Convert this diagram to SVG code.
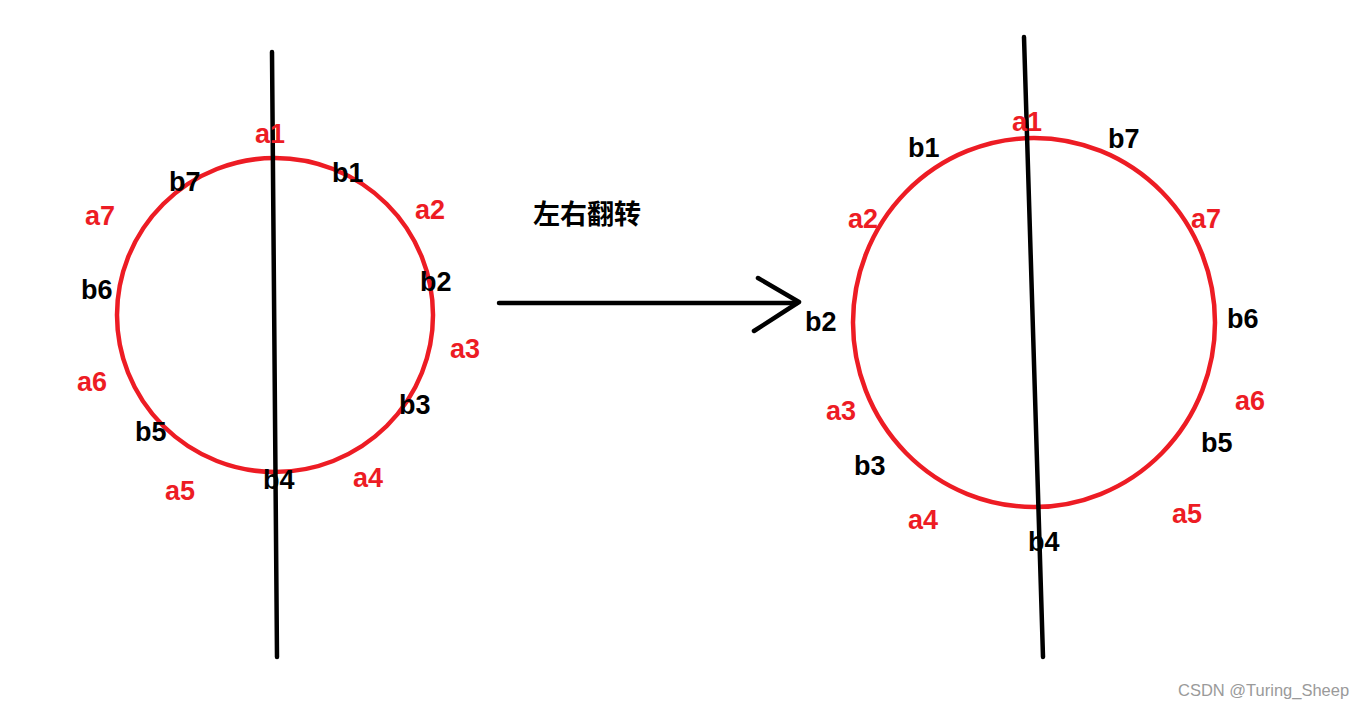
<svg xmlns="http://www.w3.org/2000/svg" width="1365" height="709" viewBox="0 0 1365 709">
<style>
.bg{fill:#fff}
.circ{fill:none;stroke:#ED1C24;stroke-width:4.5}
.ln{fill:none;stroke:#000;stroke-width:4.5;stroke-linecap:round;stroke-linejoin:round}
.a{fill:#ED1C24;font-family:"Liberation Sans",Arial,sans-serif;font-weight:bold;font-size:27px}
.b{fill:#000;font-family:"Liberation Sans",Arial,sans-serif;font-weight:bold;font-size:27px}
.zh{fill:#000;font-family:"Noto Sans CJK SC",sans-serif;font-weight:bold;font-size:27px}
.wm{fill:#9a9a9a;font-family:"Liberation Sans",Arial,sans-serif;font-size:16.5px}
</style>
<rect class="bg" x="0" y="0" width="1365" height="709"/>
<g id="left-circle">
<ellipse class="circ" cx="275" cy="315" rx="158" ry="157"/>
<path class="ln" d="M272,52 L277,657"/>
</g>
<g id="right-circle">
<ellipse class="circ" cx="1034" cy="322.5" rx="181" ry="184.5"/>
<path class="ln" d="M1024,37 L1043,657"/>
</g>
<g id="connectors">
<path class="ln" d="M499,303 L797,303"/>
<path class="ln" d="M758,278 L799,302 L754,331"/>
</g>
<g id="left-labels">
<text class="a" x="255" y="143">a1</text>
<text class="b" x="169" y="191">b7</text>
<text class="b" x="332" y="182">b1</text>
<text class="a" x="85" y="225">a7</text>
<text class="a" x="415" y="219">a2</text>
<text class="b" x="81" y="299">b6</text>
<text class="b" x="420" y="291">b2</text>
<text class="a" x="450" y="358">a3</text>
<text class="a" x="77" y="391">a6</text>
<text class="b" x="399" y="414">b3</text>
<text class="b" x="135" y="441">b5</text>
<text class="a" x="165" y="500">a5</text>
<text class="b" x="263" y="489">b4</text>
<text class="a" x="353" y="487">a4</text>
</g>
<g id="title">
<text class="zh" x="533" y="224">左右翻转</text>
</g>
<g id="right-labels">
<text class="a" x="1012" y="131">a1</text>
<text class="b" x="908" y="157">b1</text>
<text class="b" x="1108" y="148">b7</text>
<text class="a" x="848" y="228">a2</text>
<text class="a" x="1191" y="228">a7</text>
<text class="b" x="805" y="331">b2</text>
<text class="b" x="1227" y="328">b6</text>
<text class="a" x="826" y="420">a3</text>
<text class="a" x="1235" y="410">a6</text>
<text class="b" x="854" y="475">b3</text>
<text class="b" x="1201" y="452">b5</text>
<text class="a" x="908" y="529">a4</text>
<text class="a" x="1172" y="523">a5</text>
<text class="b" x="1028" y="551">b4</text>
</g>
<text class="wm" x="1178" y="696">CSDN @Turing_Sheep</text>
</svg>
